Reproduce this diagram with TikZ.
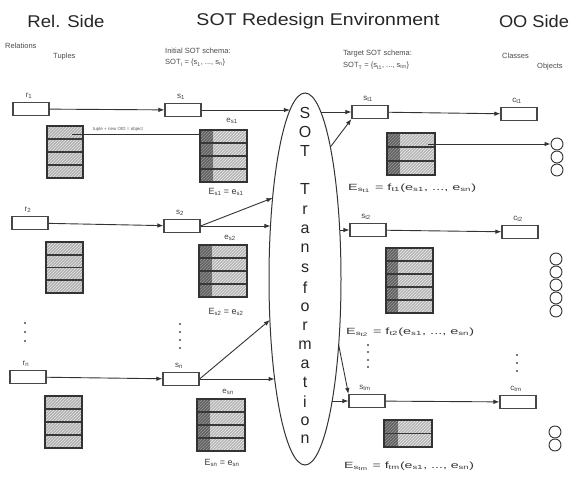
\documentclass[tikz,border=0pt]{standalone}
\usepackage{fontspec}
\setmainfont{Liberation Sans}
\usetikzlibrary{shapes.geometric,arrows.meta,patterns}
\newcommand{\fw}[2]{\resizebox{#1}{\height}{#2}}
\newcommand{\sbs}[1]{\textsubscript{#1}}
% tuple block: name x1 y1 x2 y2 rows
\newcommand{\tblk}[6]{%
  \fill[gray!62] (#2,#3) rectangle (#4,#5);
  \fill[pattern=north east lines, pattern color=gray!18] (#2,#3) rectangle (#4,#5);
  \pgfmathsetmacro{\blkrh}{(#5-#3)/#6}
  \pgfmathtruncatemacro{\blknr}{#6-1}
  \foreach \k in {1,...,\blknr} {\draw[rowsep] (#2,{#3+\k*\blkrh}) -- (#4,{#3+\k*\blkrh});}
  \node[frm, minimum width={#4-#2}, minimum height={#5-#3}, anchor=north west] (#1) at (#2,#3) {};
}
% e block: name x1 y1 x2 y2 rows xdark
\newcommand{\eblk}[7]{%
  \fill[gray!58] (#2,#3) rectangle (#4,#5);
  \fill[pattern=north east lines, pattern color=gray!15] (#2,#3) rectangle (#4,#5);
  \fill[black!62] (#2,#3) rectangle (#7,#5);
  \fill[pattern=north east lines, pattern color=black!40] (#2,#3) rectangle (#7,#5);
  \pgfmathsetmacro{\blkrh}{(#5-#3)/#6}
  \pgfmathtruncatemacro{\blknr}{#6-1}
  \foreach \k in {1,...,\blknr} {\draw[rowsep] (#2,{#3+\k*\blkrh}) -- (#4,{#3+\k*\blkrh});}
  \node[frm, minimum width={#4-#2}, minimum height={#5-#3}, anchor=north west] (#1) at (#2,#3) {};
}
\newcommand{\EL}[2]{\coordinate (#1) at ({305-36*sqrt(1-((#2-279)/186)^2)},#2);}
\newcommand{\ER}[2]{\coordinate (#1) at ({305+36*sqrt(1-((#2-279)/186)^2)},#2);}
\begin{document}
\begin{tikzpicture}[x=1pt,y=-1pt,
  box/.style={draw=black!72, line width=1.1pt, fill=white, rectangle, minimum width=36pt, minimum height=13pt, inner sep=0},
  arr/.style={-{Latex[length=6pt,width=4.5pt]}, line width=0.9pt, draw=black!80},
  ln/.style={line width=0.9pt, draw=black!80},
  lbl/.style={font=\fontsize{8}{9}\selectfont, inner sep=0, text=black!75},
  sml/.style={font=\fontsize{7.5}{9}\selectfont, inner sep=0, text=black!70},
  fml/.style={font=\fontsize{9}{10}\selectfont, inner sep=0, text=black!78},
  ttl/.style={font=\fontsize{17}{20}\selectfont, inner sep=0, text=black!85},
  frm/.style={draw=black!80, line width=1.1pt, inner sep=0, outer sep=0, rectangle},
  rowsep/.style={line width=1.6pt, draw=black!78},
  obj/.style={circle, draw=black!80, line width=0.9pt, minimum size=12pt, inner sep=0},
  dt/.style={circle, fill=black!70, minimum size=2.4pt, inner sep=0},
  ltr/.style={font=\fontsize{16}{18}\selectfont, inner sep=0, text=black!85}
]
\useasboundingbox (0,0) rectangle (581,479);
\fill[white] (0,0) rectangle (581,479);

% titles
\node[ttl] (tRel) at (66,21) {\fw{77pt}{Rel. Side}};
\node[ttl] (tSOT) at (318,21) {\fw{243pt}{SOT Redesign Environment}};
\node[ttl] (tOO) at (534,21) {\fw{70pt}{OO Side}};

% headers
\node[sml, anchor=west] (hRel) at (5,46) {Relations};
\node[sml, anchor=west] (hTup) at (53,57) {Tuples};
\node[sml, anchor=west] (hIni) at (165,51) {Initial SOT schema:};
\node[sml, anchor=west] (hIniS) at (165,63) {SOT\sbs{I} = \{s\sbs{1}, ..., s\sbs{n}\}};
\node[sml, anchor=west] (hTar) at (343,54) {Target SOT schema:};
\node[sml, anchor=west] (hTarS) at (343,66) {SOT\sbs{T} = \{s\sbs{t1}, ..., s\sbs{tm}\}};
\node[sml, anchor=west] (hCla) at (502,56) {Classes};
\node[sml, anchor=west] (hObj) at (537,67) {Objects};

% blocks
\tblk{t1}{47}{126}{83}{178}{4}
\tblk{t2}{46}{242}{83}{293}{4}
\tblk{tn}{45}{396}{82}{448}{4}
\eblk{es1}{200}{130}{247}{182}{4}{213}
\eblk{es2}{199}{245}{247}{297}{4}{212}
\eblk{esn}{197}{399}{245}{451}{4}{210}
\eblk{et1}{387}{133}{435}{175}{3}{400}
\eblk{et2}{386}{248}{433}{313}{5}{398}
\eblk{etm}{384}{420}{432}{447}{2}{398}

% ellipse
\node[ellipse, draw=black!80, line width=1pt, minimum width=72pt, minimum height=372pt, inner sep=0] (ell) at (305,279) {};
\foreach \ch/\yy [count=\i] in {S/113,O/132,T/151,T/189,r/210,a/229,n/248,s/268,f/288,o/307,r/326,m/345,a/364,t/382,i/402,o/421,n/439}
  \node[ltr] (L\i) at (305,\yy) {\ch};

% boxes
\node[box] (r1) at (31,109) {};
\node[box] (s1) at (183,110) {};
\node[box] (r2) at (30,223) {};
\node[box] (s2) at (182,226) {};
\node[box] (rn) at (28,377) {};
\node[box] (sn) at (181,379) {};
\node[box] (st1) at (370,112) {};
\node[box] (ct1) at (519,114) {};
\node[box] (st2) at (368,230) {};
\node[box] (ct2) at (520,232) {};
\node[box] (stm) at (367,401) {};
\node[box] (ctm) at (518,402) {};

% box labels
\node[lbl, anchor=south] (lr1) at ([xshift=-2pt,yshift=3pt]r1.north) {r\sbs{1}};
\node[lbl, anchor=south] (ls1) at ([xshift=-2pt,yshift=3pt]s1.north) {s\sbs{1}};
\node[lbl, anchor=south] (lr2) at ([xshift=-2pt,yshift=3pt]r2.north) {r\sbs{2}};
\node[lbl, anchor=south] (ls2) at ([xshift=-2pt,yshift=3pt]s2.north) {s\sbs{2}};
\node[lbl, anchor=south] (lrn) at ([xshift=-2pt,yshift=3pt]rn.north) {r\sbs{n}};
\node[lbl, anchor=south] (lsn) at ([xshift=-2pt,yshift=3pt]sn.north) {s\sbs{n}};
\node[lbl, anchor=south] (lst1) at ([xshift=-2pt,yshift=3pt]st1.north) {s\sbs{t1}};
\node[lbl, anchor=south] (lct1) at ([xshift=-2pt,yshift=3pt]ct1.north) {c\sbs{t1}};
\node[lbl, anchor=south] (lst2) at ([xshift=-2pt,yshift=3pt]st2.north) {s\sbs{t2}};
\node[lbl, anchor=south] (lct2) at ([xshift=-2pt,yshift=3pt]ct2.north) {c\sbs{t2}};
\node[lbl, anchor=south] (lstm) at ([xshift=-2pt,yshift=3pt]stm.north) {s\sbs{tm}};
\node[lbl, anchor=south] (lctm) at ([xshift=-2pt,yshift=3pt]ctm.north) {c\sbs{tm}};

% e labels and formulas
\node[lbl] (les1) at (232,121) {e\sbs{s1}};
\node[lbl] (les2) at (230,238) {e\sbs{s2}};
\node[lbl] (lesn) at (228,392) {e\sbs{sn}};
\node[fml] (Es1) at (226,192) {E\sbs{s1} = e\sbs{s1}};
\node[fml] (Es2) at (226,312) {E\sbs{s2} = e\sbs{s2}};
\node[fml] (Esn) at (222,463) {E\sbs{sn} = e\sbs{sn}};
\node[fml, anchor=west] (Et1) at (348,188) {\fw{128pt}{E\sbs{s\sbs{t1}} = f\sbs{t1}(e\sbs{s1}, ..., e\sbs{sn})}};
\node[fml, anchor=west] (Et2) at (346,332) {\fw{128pt}{E\sbs{s\sbs{t2}} = f\sbs{t2}(e\sbs{s1}, ..., e\sbs{sn})}};
\node[fml, anchor=west] (Etm) at (344,466) {\fw{130pt}{E\sbs{s\sbs{tm}} = f\sbs{tm}(e\sbs{s1}, ..., e\sbs{sn})}};

% objects
\foreach \i/\yy in {1/144,2/157,3/170} \node[obj] (oa\i) at (557,\yy) {};
\foreach \i/\yy in {1/259,2/272,3/285,4/298,5/311} \node[obj] (ob\i) at (556,\yy) {};
\foreach \i/\yy in {1/432,2/445} \node[obj] (oc\i) at (555,\yy) {};

% dots
\foreach \i/\yy in {1/323,2/332,3/341} \node[dt] (da\i) at (25,\yy) {};
\foreach \i/\yy in {1/324,2/332,3/340,4/348} \node[dt] (db\i) at (180,\yy) {};
\foreach \i/\yy in {1/345,2/352,3/360,4/367} \node[dt] (dc\i) at (368,\yy) {};
\foreach \i/\yy in {1/355,2/363,3/371} \node[dt] (dd\i) at (517,\yy) {};

% connectors
\draw[arr] (r1) -- (s1);
\draw[arr] (r2) -- (s2);
\draw[arr] (rn) -- (sn);
\EL{a1}{110} \draw[arr] (s1.east) -- (a1);
\EL{a2}{198} \draw[arr] (s2.east) -- (a2);
\EL{a3}{226} \draw[arr] (s2.east) -- (a3);
\EL{a4}{320} \draw[arr] (sn.east) -- (a4);
\EL{a5}{379} \draw[arr] (sn.east) -- (a5);
\ER{b1}{112} \draw[arr] (b1) -- (st1.west);
\ER{b2}{147} \draw[arr] (b2) -- (st1.south west);
\ER{b3}{230} \draw[arr] (b3) -- (st2.west);
\ER{b4}{345} \draw[arr] (b4) -- (stm.north west);
\ER{b5}{401} \draw[arr] (b5) -- (stm.west);
\draw[arr] (st1) -- (ct1);
\draw[arr] (st2) -- (ct2);
\draw[arr] (stm) -- (ctm);

\coordinate (tp) at (72,134);
\draw[ln] (tp) -- (tp -| es1.west);
\node[font=\fontsize{4.5}{5}\selectfont, inner sep=0, text=black!65] (ltp) at (118,129) {tuple + new OID = object};
\coordinate (ep) at (428,144);
\draw[arr] (ep) -- (oa1.west);
\end{tikzpicture}
\end{document}
